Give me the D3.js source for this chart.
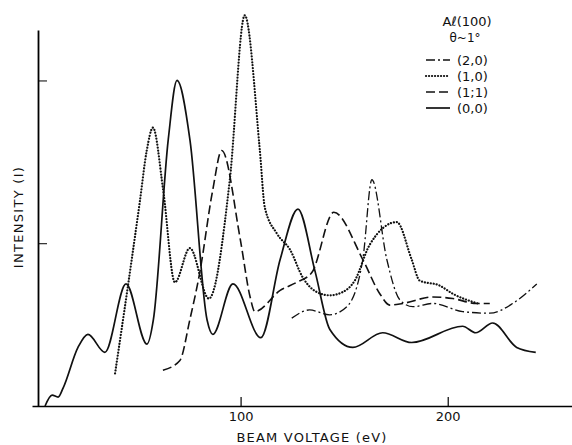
<!DOCTYPE html>
<html>
<head>
<meta charset="utf-8">
<script src="https://cdn.jsdelivr.net/npm/d3@7"></script>
<style>
  body { margin: 0; background: #fff; }
  text { font-family: "DejaVu Sans", "Liberation Sans", sans-serif; fill: #111; }
</style>
</head>
<body>
<svg></svg>
<script>
const width = 572;
const height = 445;

// beam voltage (eV) and intensity (tick units)
const ev00 = [5.6, 9.0, 11.9, 14.3, 21.5, 26.3, 34.5, 44.7, 54.8, 57.9, 65.1, 69.3, 75.6, 83.8, 86.6, 96.3, 109.8, 119.1, 127.7, 135.9, 143.1, 154.2, 168.6, 182.6, 207.2, 213.5, 221.7, 233.3, 242.5];
const int00 = [0.0, 0.067, 0.055, 0.11, 0.36, 0.44, 0.33, 0.75, 0.38, 0.53, 1.64, 2.0, 1.63, 0.53, 0.44, 0.75, 0.42, 0.9, 1.21, 0.83, 0.47, 0.36, 0.45, 0.39, 0.49, 0.45, 0.51, 0.36, 0.33];

const ev10 = [39.4, 45.3, 51.4, 54.7, 57.7, 62.6, 68.3, 75.5, 84.7, 94.8, 102.0, 109.3, 111.7, 117.5, 123.9, 130.0, 136.8, 143.0, 149.3, 155.1, 162.3, 175.4, 182.6, 186.5, 196.1, 202.4, 214.5];
const int10 = [0.2, 0.71, 1.26, 1.57, 1.71, 1.33, 0.76, 0.97, 0.66, 1.39, 2.4, 1.57, 1.22, 1.06, 0.96, 0.79, 0.7, 0.68, 0.7, 0.77, 0.99, 1.13, 0.9, 0.77, 0.74, 0.69, 0.63];

const ev11 = [62.5, 70.7, 75.5, 80.3, 86.6, 90.9, 99.9, 104.6, 106.9, 119.1, 127.1, 134.4, 145.0, 159.0, 167.2, 172.0, 178.3, 192.8, 202.4, 214.0, 220.3];
const int11 = [0.22, 0.28, 0.53, 0.82, 1.33, 1.57, 1.02, 0.67, 0.58, 0.71, 0.76, 0.82, 1.19, 0.9, 0.69, 0.62, 0.63, 0.67, 0.66, 0.63, 0.63];

const ev20 = [124.7, 133.3, 143.0, 151.3, 159.0, 163.4, 170.6, 177.0, 183.2, 192.8, 207.2, 220.3, 231.4, 243.0];
const int20 = [0.54, 0.59, 0.56, 0.61, 0.9, 1.39, 0.9, 0.65, 0.61, 0.63, 0.58, 0.57, 0.63, 0.75];

const xTicks = [100, 200];
const yTicks = [1, 2];
const legendLabels = ["(2,0)", "(1,0)", "(1;1)", "(0,0)"];

const svg = d3.select("svg").attr("width", width).attr("height", height);

const x = d3.scaleLinear().domain([-0.7, 260]).range([32, 572]);
const y = d3.scaleLinear().domain([0, 2.31]).range([406, 30]);

// axes
svg.append("g")
  .attr("transform", "translate(0,406)")
  .call(d3.axisBottom(x).tickValues(xTicks).tickSizeInner(-9).tickSizeOuter(0).tickPadding(6))
  .call(g => g.select(".domain").attr("stroke-width", 1.6))
  .call(g => g.selectAll(".tick line").attr("stroke-width", 1.2))
  .call(g => g.selectAll("text").attr("font-size", 13).attr("font-family", "DejaVu Sans"));

svg.append("g")
  .attr("transform", "translate(38,0)")
  .call(d3.axisRight(y).tickValues(yTicks).tickSizeInner(9).tickSizeOuter(0).tickFormat(""))
  .call(g => g.select(".domain").attr("stroke-width", 1.8));

svg.append("text")
  .attr("x", 312).attr("y", 442)
  .attr("text-anchor", "middle")
  .attr("font-size", 13)
  .attr("letter-spacing", 1.2)
  .text("BEAM VOLTAGE  (eV)");

svg.append("text")
  .attr("transform", "translate(23,217) rotate(-90)")
  .attr("text-anchor", "middle")
  .attr("font-size", 13)
  .attr("letter-spacing", 1.3)
  .text("INTENSITY (I)");

// curves
const line = d3.line()
  .x(d => x(d[0]))
  .y(d => y(d[1]))
  .curve(d3.curveMonotoneX);

const styles = {
  "(2,0)": { dash: "9 3 2 3", width: 1.3, cap: "butt" },
  "(1,0)": { dash: "0.1 2.9", width: 2.2, cap: "round" },
  "(1;1)": { dash: "9 4", width: 1.6, cap: "butt" },
  "(0,0)": { dash: null, width: 1.7, cap: "butt" }
};

const series = [
  { name: "(2,0)", pts: d3.zip(ev20, int20) },
  { name: "(1,0)", pts: d3.zip(ev10, int10) },
  { name: "(1;1)", pts: d3.zip(ev11, int11) },
  { name: "(0,0)", pts: d3.zip(ev00, int00) }
];

svg.append("g")
  .selectAll("path")
  .data(series)
  .join("path")
  .attr("d", d => line(d.pts))
  .attr("fill", "none")
  .attr("stroke", "#111")
  .attr("stroke-width", d => styles[d.name].width)
  .attr("stroke-linecap", d => styles[d.name].cap)
  .attr("stroke-dasharray", d => styles[d.name].dash);

// legend
const legend = svg.append("g");
legend.append("text")
  .attr("x", 467).attr("y", 26)
  .attr("text-anchor", "middle")
  .attr("font-size", 13)
  .text("A\u2113(100)");
legend.append("text")
  .attr("x", 465).attr("y", 42)
  .attr("text-anchor", "middle")
  .attr("font-size", 12)
  .text("\u03b8~1\u00b0");

const row = legend.selectAll("g.row")
  .data(legendLabels)
  .join("g")
  .attr("class", "row")
  .attr("transform", (d, i) => `translate(0,${60 + i * 16})`);

row.append("line")
  .attr("x1", 426).attr("x2", 450)
  .attr("stroke", "#111")
  .attr("stroke-width", d => styles[d].width)
  .attr("stroke-linecap", d => styles[d].cap)
  .attr("stroke-dasharray", d => styles[d].dash);

row.append("text")
  .attr("x", 457).attr("y", 5)
  .attr("font-size", 13)
  .text(d => d);
</script>
</body>
</html>
